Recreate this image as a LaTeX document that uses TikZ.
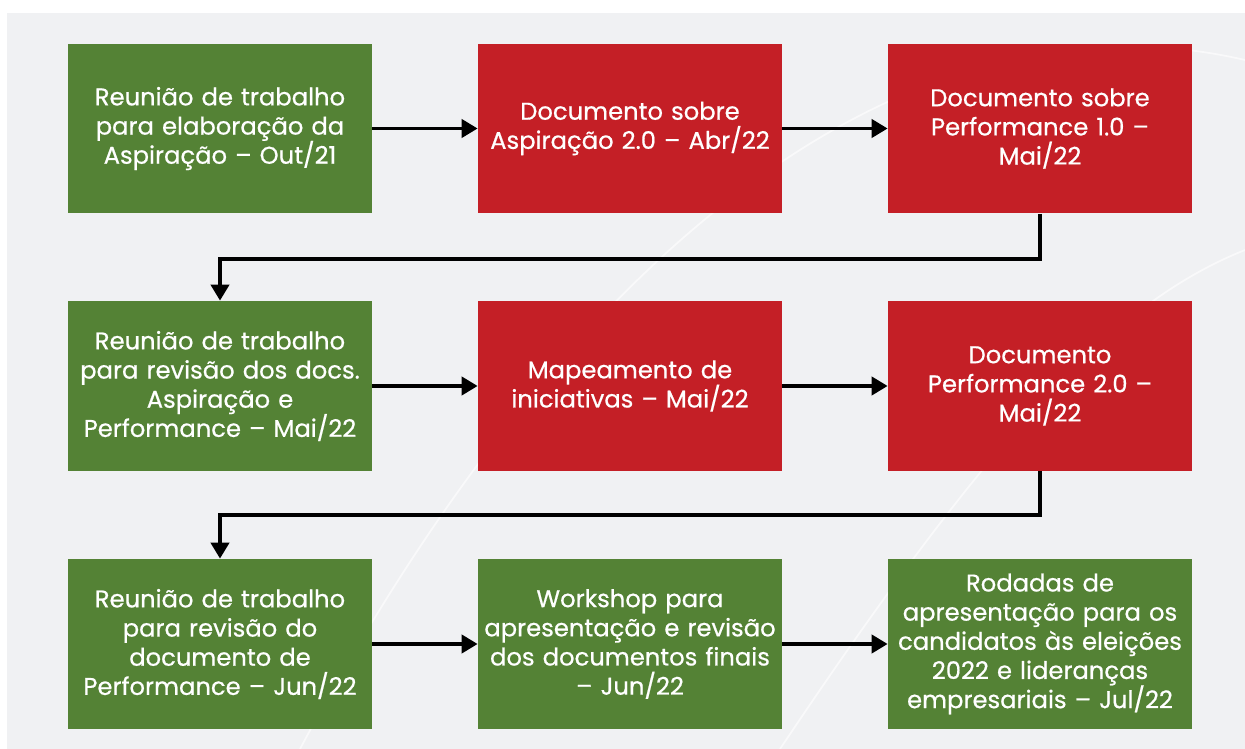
\documentclass[tikz,border=0pt]{standalone}
\usepackage{fontspec}
\setmainfont{Poppins}
\newfontfamily\etapafont{Poppins}[FakeBold=0.6]
\usetikzlibrary{arrows.meta}
\definecolor{verde}{HTML}{548235}
\definecolor{vermelho}{HTML}{C41F26}
\definecolor{fundo}{HTML}{F0F1F3}

\begin{document}
\begin{tikzpicture}[x=0.02cm,y=-0.02cm,
    etapa/.style ={rectangle, minimum width=6.08cm, minimum height=3.4cm,
      text width=5.9cm, align=center, text=white, inner sep=0pt,
      font=\etapafont\fontsize{13.8}{16.6}\selectfont},
    ok/.style ={etapa, fill=verde},
    doc/.style ={etapa, fill=vermelho},
    seta/.style ={line width=2.2pt, -{Triangle[length=0.32cm,width=0.36cm]}}]
   \useasboundingbox (0,0) rectangle (1245,749);
   \fill[fundo] (7,13) rectangle (1245,749);
   % faint arcs in the background
   \draw[white, line width=1pt, opacity=0.6] (300,749) .. controls (560,260) and (900,-20) .. (1245,60);
   \draw[white, line width=1pt, opacity=0.6] (780,749) .. controls (1000,420) and (1120,300) .. (1245,250);

   \node[ok]  (A1) at (220,128.5) {Reunião de trabalho\\para elaboração da\\Aspiração – Out/21};
   \node[doc] (A2) at (630,128.5) {Documento sobre\\Aspiração 2.0 – Abr/22};
   \node[doc] (A3) at (1040,128.5) {Documento sobre\\Performance 1.0 –\\Mai/22};

   \node[ok]  (B1) at (220,386) {Reunião de trabalho\\para revisão dos docs.\\Aspiração e\\Performance – Mai/22};
   \node[doc] (B2) at (630,386) {Mapeamento de\\iniciativas – Mai/22};
   \node[doc] (B3) at (1040,386) {Documento\\Performance 2.0 –\\Mai/22};

   \node[ok]  (C1) at (220,644) {Reunião de trabalho\\para revisão do\\documento de\\Performance – Jun/22};
   \node[ok]  (C2) at (630,644) {Workshop para\\apresentação e revisão\\dos documentos finais\\– Jun/22};
   \node[ok]  (C3) at (1040,644) {Rodadas de\\apresentação para os\\candidatos às eleições\\2022 e lideranças\\empresariais – Jul/22};

   \draw[seta] (A1) to (A2);
   \draw[seta] (A2) to (A3);
   \draw[seta] (A3.south) -- ++(0,45) -| (B1.north);
   \draw[seta] (B1) to (B2);
   \draw[seta] (B2) to (B3);
   \draw[seta] (B3.south) -- ++(0,44) -| (C1.north);
   \draw[seta] (C1) to (C2);
   \draw[seta] (C2) to (C3);
 \end{tikzpicture}
\end{document}
